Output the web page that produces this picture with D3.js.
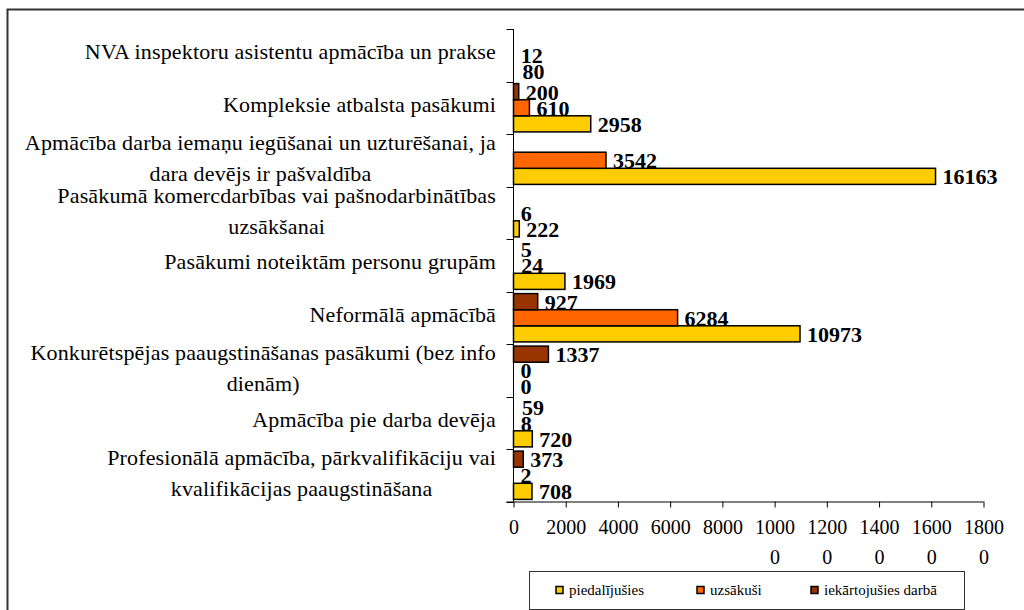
<!DOCTYPE html>
<html>
<head>
<meta charset="utf-8">
<script src="https://cdn.jsdelivr.net/npm/d3@7"></script>
<style>
  body { margin: 0; background: #fff; }
  svg { display: block; }
  svg text { font-family: "Liberation Serif", "Times New Roman", serif; }
</style>
</head>
<body>
<svg id="chart" width="1024" height="610"></svg>
<script>
// categories in data order (first one is drawn at the bottom, like Excel does)
var categories = [
  "Profesionālā apmācība, pārkvalifikāciju vai\nkvalifikācijas paaugstināšana",
  "Apmācība pie darba devēja",
  "Konkurētspējas paaugstināšanas pasākumi (bez info\ndienām)",
  "Neformālā apmācībā",
  "Pasākumi noteiktām personu grupām",
  "Pasākumā komercdarbības vai pašnodarbinātības\nuzsākšanai",
  "Apmācība darba iemaņu iegūšanai un uzturēšanai, ja\ndara devējs ir pašvaldība",
  "Kompleksie atbalsta pasākumi",
  "NVA inspektoru asistentu apmācība un prakse"
];
var piedalijusies = [708, 720, 0, 10973, 1969, 222, 16163, 2958, 80];
var uzsakusi = [2, 8, 0, 6284, 24, 6, 3542, 610, 12];
var iekartojusies = [373, 59, 1337, 927, 5, null, null, 200, null];
var xTicks = [0, 2000, 4000, 6000, 8000, 10000, 12000, 14000, 16000, 18000];

var seriesNames = ["piedalījušies", "uzsākuši", "iekārtojušies darbā"];
var seriesValues = [piedalijusies, uzsakusi, iekartojusies];
var colors = ["#FFCC00", "#FF6600", "#993300"];

var svg = d3.select("#chart");

// outer frame (right and bottom edges fall outside the picture)
svg.append("rect")
  .attr("x", 7.5).attr("y", 9.5)
  .attr("width", 1100).attr("height", 700)
  .attr("fill", "none")
  .attr("stroke", "#333")
  .attr("stroke-width", 2);

var plot = { left: 513.5, right: 983.5, top: 29, bottom: 501.5 };

var xScale = d3.scaleLinear()
  .domain([0, 18000])
  .range([plot.left, plot.right]);

// top to bottom order on the page
var yScale = d3.scaleBand()
  .domain(categories.slice().reverse())
  .range([plot.top, plot.bottom])
  .paddingInner(0.08)
  .paddingOuter(0.04);

// inside each category: iekārtojušies on top, piedalījušies at the bottom
var inner = d3.scaleBand()
  .domain([2, 1, 0])
  .range([0, yScale.bandwidth()]);

var rows = [];
categories.forEach(function (cat, i) {
  seriesValues.forEach(function (vals, s) {
    if (vals[i] === null) return;
    rows.push({ cat: cat, s: s, value: vals[i] });
  });
});

// bars (the very thin ones vanish in the original)
svg.append("g")
  .selectAll("rect")
  .data(rows.filter(d => xScale(d.value) - xScale(0) >= 3))
  .join("rect")
  .attr("x", xScale(0))
  .attr("y", d => yScale(d.cat) + inner(d.s))
  .attr("width", d => xScale(d.value) - xScale(0))
  .attr("height", inner.bandwidth())
  .attr("fill", d => colors[d.s])
  .attr("stroke", "#000")
  .attr("stroke-width", 1.5);

// x axis
var xAxis = d3.axisBottom(xScale)
  .tickValues(xTicks)
  .tickSize(6)
  .tickFormat("");

var gx = svg.append("g")
  .attr("transform", `translate(0, ${plot.bottom})`)
  .call(xAxis);
gx.select(".domain").attr("d", `M${plot.left - 7},0.5H${plot.right}`).attr("stroke", "#000");
gx.selectAll(".tick line").attr("stroke", "#000");

// Excel wrapped the five digit labels, keep that
gx.selectAll(".tick").each(function (v) {
  var s = String(v);
  var t = d3.select(this).append("text")
    .attr("fill", "#000")
    .attr("font-size", 20)
    .attr("text-anchor", "middle");
  t.append("tspan").attr("x", 0).attr("y", 32).text(s.slice(0, 4));
  if (s.length > 4) t.append("tspan").attr("x", 0).attr("y", 62).text(s.slice(4));
});

// y axis with tick marks between categories
var step = yScale.step();
var first = yScale(yScale.domain()[0]) - step * yScale.paddingInner() / 2;
var bounds = d3.range(categories.length + 1).map(i => first + i * step);
var gy = svg.append("g");
gy.append("line")
  .attr("x1", plot.left).attr("x2", plot.left)
  .attr("y1", bounds[0]).attr("y2", plot.bottom)
  .attr("stroke", "#000");
gy.selectAll("line.tk")
  .data(bounds)
  .join("line")
  .attr("class", "tk")
  .attr("x1", plot.left - 7).attr("x2", plot.left)
  .attr("y1", d => Math.round(d) + 0.5).attr("y2", d => Math.round(d) + 0.5)
  .attr("stroke", "#000");

// category labels, centred block whose right edge touches x = 496
var labelRight = 496;
var lineH = 31;
categories.forEach(function (cat) {
  var lines = cat.split("\n");
  var cy = yScale(cat) + yScale.bandwidth() / 2 - 2 - (lines.length === 1 ? 1.5 : 0);
  var t = svg.append("text")
    .attr("font-size", 22)
    .attr("letter-spacing", 0.15)
    .attr("fill", "#000")
    .attr("text-anchor", "middle");
  lines.forEach(function (ln, k) {
    t.append("tspan")
      .attr("y", cy + (k - (lines.length - 1) / 2) * lineH)
      .attr("dy", "0.35em")
      .text(ln);
  });
  var w = d3.max(t.selectAll("tspan").nodes(), n => n.getComputedTextLength());
  t.selectAll("tspan").attr("x", labelRight - w / 2);
});

// value labels
svg.append("g")
  .selectAll("text")
  .data(rows)
  .join("text")
  .attr("x", d => xScale(d.value) + 7)
  .attr("y", d => yScale(d.cat) + inner(d.s) + inner.bandwidth() / 2)
  .attr("dy", "0.36em")
  .attr("font-size", 22)
  .attr("font-weight", "bold")
  .attr("fill", "#000")
  .text(d => d.value);

// legend
var legend = svg.append("g");
legend.append("rect")
  .attr("x", 529.5).attr("y", 571.5)
  .attr("width", 435).attr("height", 38)
  .attr("fill", "#fff")
  .attr("stroke", "#333");
var legendX = [556, 697, 811];
seriesNames.forEach(function (name, s) {
  legend.append("rect")
    .attr("x", legendX[s]).attr("y", 586.5)
    .attr("width", 7).attr("height", 7)
    .attr("fill", colors[s])
    .attr("stroke", "#000")
    .attr("stroke-width", 1.5);
  legend.append("text")
    .attr("x", legendX[s] + 13)
    .attr("y", 590)
    .attr("dy", "0.35em")
    .attr("font-size", 15)
    .attr("fill", "#000")
    .text(name);
});
</script>
</body>
</html>
